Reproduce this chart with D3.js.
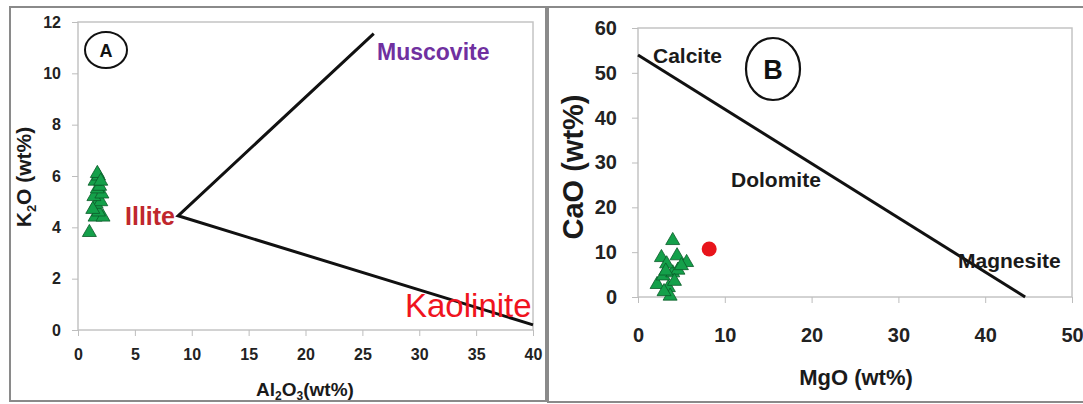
<!DOCTYPE html>
<html><head><meta charset="utf-8">
<script src="https://cdn.jsdelivr.net/npm/d3@7"></script>
<style>
body{margin:0;background:#fff;}
svg{display:block;font-family:"Liberation Sans",Arial,sans-serif;}
.tick line{stroke:#bdbdbd;}
.tick text{fill:#222;font-weight:bold;}
</style></head>
<body>
<svg id="c" width="1083" height="404"></svg>
<script>
// ---------- Panel A data ----------
const aXTicks = [0,5,10,15,20,25,30,35,40];
const aYTicks = [0,2,4,6,8,10,12];
const aAl2O3 = [1.0,1.5,2.2,1.8,1.6,2.0,1.4,2.1,1.7,1.9,1.5,1.8,1.7,2.0,1.3];
const aK2O   = [3.8,4.4,4.4,4.6,4.9,5.0,5.2,5.3,5.5,5.6,5.8,6.0,6.1,5.8,4.7];
const aLineX = [26,8.8,40];     // Muscovite -> Illite -> Kaolinite
const aLineY = [11.55,4.45,0.2];
// ---------- Panel B data ----------
const bXTicks = [0,10,20,30,40,50];
const bYTicks = [0,10,20,30,40,50,60];
const bMgO = [4.0,2.7,4.5,5.6,2.2,3.5,3.7,2.9,4.0,4.6,3.3,3.0,4.2,5.0,3.2];
const bCaO = [12.6,8.8,9.2,7.7,2.8,2.1,0.2,4.7,5.4,6.0,7.4,1.2,3.5,7.0,5.8];
const bRedMgO = [8.2];
const bRedCaO = [10.7];
const bLineX = [0,44.6];
const bLineY = [54,0];

const svg = d3.select("#c");

// outer frames
svg.append("rect").attr("x",10).attr("y",7).attr("width",536).attr("height",394)
  .attr("fill","none").attr("stroke","#8a8a8a").attr("stroke-width",2);
svg.append("rect").attr("x",548).attr("y",7).attr("width",545).attr("height",395)
  .attr("fill","none").attr("stroke","#8a8a8a").attr("stroke-width",2);

const tri = d3.symbol().type(d3.symbolTriangle).size(85);

// ================= Panel A =================
{
  const x = d3.scaleLinear().domain([0,40]).range([78,533]);
  const y = d3.scaleLinear().domain([0,12]).range([330,22]);
  const g = svg.append("g");
  g.append("rect").attr("x",78).attr("y",22).attr("width",455).attr("height",308)
    .attr("fill","none").attr("stroke","#c4c4c4").attr("stroke-width",1.5);
  const ya = g.append("g").attr("transform","translate(78,0)")
    .call(d3.axisLeft(y).tickValues(aYTicks).tickSize(6).tickSizeOuter(0).tickPadding(11));
  ya.select(".domain").remove();
  ya.selectAll("text").style("font-size","16px");
  const xa = g.append("g").attr("transform","translate(0,330)")
    .call(d3.axisBottom(x).tickValues(aXTicks).tickSize(6).tickSizeOuter(0).tickPadding(13));
  xa.select(".domain").remove();
  xa.selectAll("text").style("font-size","16px");

  const line = d3.line().x(d=>x(d[0])).y(d=>y(d[1]));
  g.append("path").attr("d",line(aLineX.map((v,i)=>[v,aLineY[i]])))
    .attr("fill","none").attr("stroke","#111").attr("stroke-width",3);

  g.selectAll("path.pt").data(aAl2O3).join("path").attr("class","pt")
    .attr("d",tri).attr("transform",(d,i)=>`translate(${x(d)},${y(aK2O[i])})`)
    .attr("fill","#14a04a").attr("stroke","#0a5a28").attr("stroke-width",0.8);

  g.append("text").attr("x",377).attr("y",60).text("Muscovite")
    .attr("fill","#7030a0").style("font-size","23px").style("font-weight","bold");
  g.append("text").attr("x",125).attr("y",225).text("Illite")
    .attr("fill","#c0272d").style("font-size","25px").style("font-weight","bold");
  g.append("text").attr("x",405).attr("y",317).text("Kaolinite")
    .attr("fill","#f0141e").style("font-size","33px");

  g.append("ellipse").attr("cx",106).attr("cy",50).attr("rx",21).attr("ry",18)
    .attr("fill","none").attr("stroke","#111").attr("stroke-width",2);
  g.append("text").attr("x",106).attr("y",56.5).attr("text-anchor","middle").text("A")
    .style("font-size","18px").style("font-weight","bold").attr("fill","#111");

  const yl = g.append("text").attr("transform","translate(31,177) rotate(-90)")
    .attr("text-anchor","middle").style("font-size","21px").style("font-weight","bold").attr("fill","#1a1a1a");
  yl.append("tspan").text("K");
  yl.append("tspan").text("2").attr("dy",5).style("font-size","13px");
  yl.append("tspan").text("O (wt%)").attr("dy",-5);

  const xl = g.append("text").attr("x",305).attr("y",396)
    .attr("text-anchor","middle").style("font-size","19px").style("font-weight","bold").attr("fill","#1a1a1a");
  xl.append("tspan").text("Al");
  xl.append("tspan").text("2").attr("dy",4).style("font-size","12px");
  xl.append("tspan").text("O").attr("dy",-4);
  xl.append("tspan").text("3").attr("dy",4).style("font-size","12px");
  xl.append("tspan").text("(wt%)").attr("dy",-4);
}

// ================= Panel B =================
{
  const x = d3.scaleLinear().domain([0,50]).range([638,1072]);
  const y = d3.scaleLinear().domain([0,60]).range([297,28]);
  const g = svg.append("g");
  g.append("rect").attr("x",638).attr("y",28).attr("width",434).attr("height",269)
    .attr("fill","none").attr("stroke","#c4c4c4").attr("stroke-width",1.5);
  const ya = g.append("g").attr("transform","translate(638,0)")
    .call(d3.axisLeft(y).tickValues(bYTicks).tickSize(6).tickSizeOuter(0).tickPadding(15));
  ya.select(".domain").remove();
  ya.selectAll("text").style("font-size","20px");
  const xa = g.append("g").attr("transform","translate(0,297)")
    .call(d3.axisBottom(x).tickValues(bXTicks).tickSize(6).tickSizeOuter(0).tickPadding(25));
  xa.select(".domain").remove();
  xa.selectAll("text").style("font-size","20px");

  const line = d3.line().x(d=>x(d[0])).y(d=>y(d[1]));
  g.append("path").attr("d",line(bLineX.map((v,i)=>[v,bLineY[i]])))
    .attr("fill","none").attr("stroke","#111").attr("stroke-width",3);

  g.selectAll("path.pt").data(bMgO).join("path").attr("class","pt")
    .attr("d",tri).attr("transform",(d,i)=>`translate(${x(d)},${y(bCaO[i])})`)
    .attr("fill","#14a04a").attr("stroke","#0a5a28").attr("stroke-width",0.8);
  g.selectAll("circle.red").data(bRedMgO).join("circle").attr("class","red")
    .attr("cx",d=>x(d)).attr("cy",(d,i)=>y(bRedCaO[i])).attr("r",7.5)
    .attr("fill","#e8141b");

  const lab = (t,xx,yy)=>g.append("text").attr("x",xx).attr("y",yy).text(t)
    .style("font-size","21px").style("font-weight","bold").attr("fill","#1a1a1a");
  lab("Calcite",653,63);
  lab("Dolomite",731,187);
  lab("Magnesite",958,268);

  g.append("ellipse").attr("cx",773).attr("cy",69).attr("rx",27).attr("ry",31)
    .attr("fill","none").attr("stroke","#111").attr("stroke-width",2.2);
  g.append("text").attr("x",773).attr("y",78.5).attr("text-anchor","middle").text("B")
    .style("font-size","27px").style("font-weight","bold").attr("fill","#111");

  g.append("text").attr("transform","translate(583,167) rotate(-90)")
    .attr("text-anchor","middle").text("CaO (wt%)")
    .style("font-size","29px").style("font-weight","bold").attr("fill","#1a1a1a");
  g.append("text").attr("x",856).attr("y",385).attr("text-anchor","middle").text("MgO (wt%)")
    .style("font-size","22px").style("font-weight","bold").attr("fill","#1a1a1a");
}
</script>
</body></html>
